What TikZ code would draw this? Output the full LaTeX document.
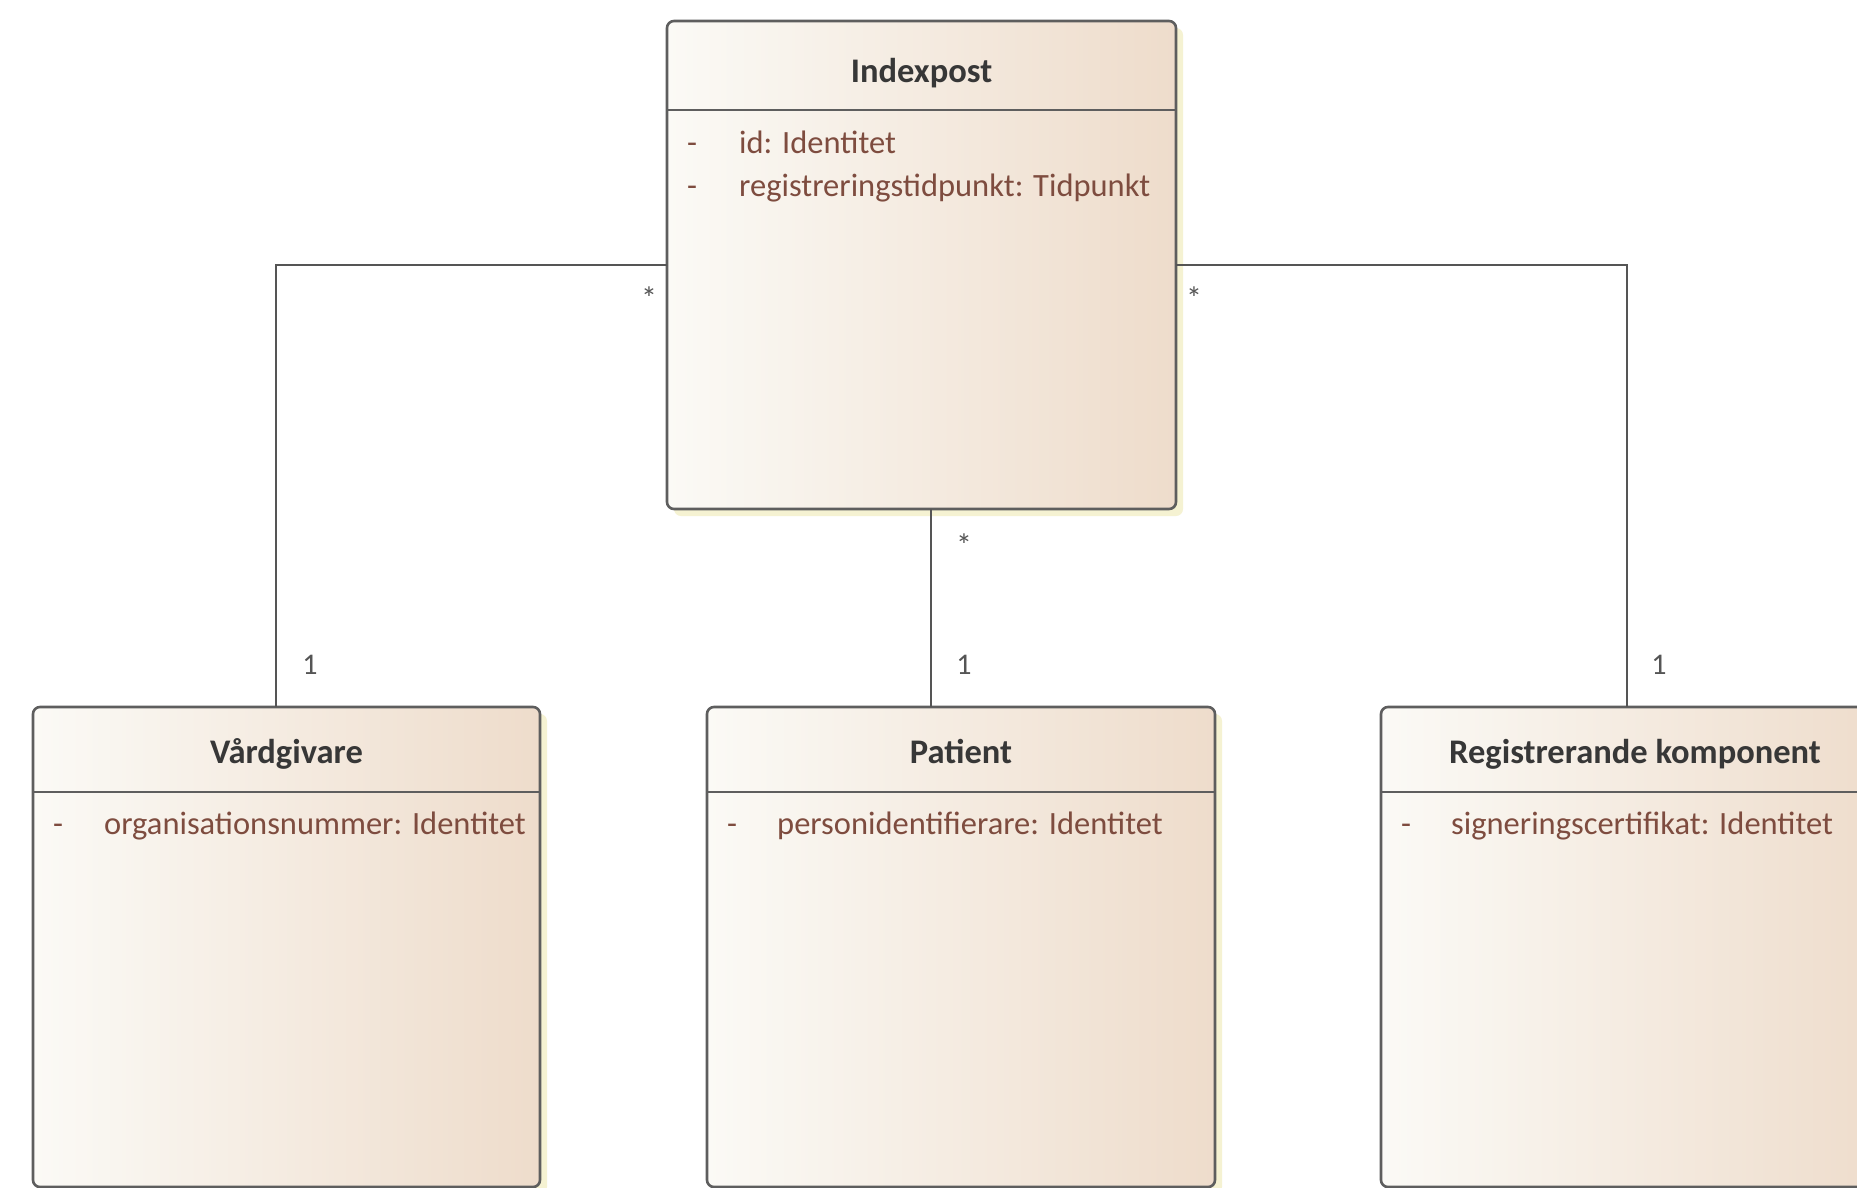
\documentclass[tikz,border=0pt]{standalone}
\usepackage{fontspec}
\setmainfont{Carlito}
\usetikzlibrary{shadows}
\definecolor{boxleft}{HTML}{FBFAF6}
\definecolor{boxmid}{HTML}{F7F0E9}
\definecolor{boxright}{HTML}{EEDCCB}
\definecolor{bordc}{HTML}{5E5E5E}
\definecolor{attrc}{HTML}{7E4C3F}
\definecolor{titlec}{HTML}{373737}
\definecolor{shadc}{HTML}{F5F2D2}
\definecolor{connc}{HTML}{555555}
\begin{document}
\begin{tikzpicture}[x=1pt,y=-1pt,
  classbox/.style={draw=bordc, line width=2.6pt, rounded corners=7pt,
    left color=boxleft, middle color=boxmid, right color=boxright,
    inner sep=0pt, outer sep=0pt, anchor=north west,
    drop shadow={shadow xshift=7pt, shadow yshift=-7pt, fill=shadc, opacity=1}},
  sepline/.style={draw=bordc, line width=2.4pt},
  titletext/.style={font=\fontsize{34.5}{40}\selectfont\bfseries, text=titlec, inner sep=0pt,
    text height=0.7em, text depth=0.2em},
  attrtext/.style={font=\fontsize{32.5}{38}\selectfont, text=attrc, inner sep=0pt, anchor=west,
    text height=0.7em, text depth=0.2em},
  dashtext/.style={font=\fontsize{32.5}{38}\selectfont, text=attrc, inner sep=0pt, anchor=west,
    text height=0.7em, text depth=0.2em},
  conn/.style={draw=connc, line width=2pt},
  mult/.style={font=\fontsize{30}{34}\selectfont, text=connc, inner sep=0pt},
  star/.style={font=\fontsize{32}{36}\selectfont, text=connc, inner sep=0pt}
]
\useasboundingbox (0,0) rectangle (1857,1187);
\fill[white] (0,0) rectangle (1857,1187);

% Indexpost
\node[classbox, minimum width=509pt, minimum height=488pt] (idx) at (667,21) {};
\draw[sepline] ([yshift=-89pt]idx.north west) -- ([yshift=-89pt]idx.north east);
\node[titletext] (idxT) at ([yshift=-59pt]idx.north) {Indexpost};
\node[dashtext] (idxD1) at ([xshift=20pt,yshift=-130pt]idx.north west) {-};
\node[attrtext] (idxA1) at ([xshift=72pt,yshift=-130pt]idx.north west) {id: Identitet};
\node[dashtext] (idxD2) at ([xshift=20pt,yshift=-173pt]idx.north west) {-};
\node[attrtext] (idxA2) at ([xshift=72pt,yshift=-173pt]idx.north west) {registreringstidpunkt: Tidpunkt};

% Vardgivare
\node[classbox, minimum width=507pt, minimum height=480pt] (vard) at (33,707) {};
\draw[sepline] ([yshift=-85pt]vard.north west) -- ([yshift=-85pt]vard.north east);
\node[titletext] (vardT) at ([yshift=-54pt]vard.north) {Vårdgivare};
\node[dashtext] (vardD1) at ([xshift=20pt,yshift=-125pt]vard.north west) {-};
\node[attrtext] (vardA1) at ([xshift=71pt,yshift=-125pt]vard.north west) {organisationsnummer: Identitet};

% Patient
\node[classbox, minimum width=508pt, minimum height=480pt] (pat) at (707,707) {};
\draw[sepline] ([yshift=-85pt]pat.north west) -- ([yshift=-85pt]pat.north east);
\node[titletext] (patT) at ([yshift=-54pt]pat.north) {Patient};
\node[dashtext] (patD1) at ([xshift=20pt,yshift=-125pt]pat.north west) {-};
\node[attrtext] (patA1) at ([xshift=70pt,yshift=-125pt]pat.north west) {personidentifierare: Identitet};

% Registrerande komponent
\node[classbox, minimum width=508pt, minimum height=480pt] (reg) at (1381,707) {};
\draw[sepline] ([yshift=-85pt]reg.north west) -- ([yshift=-85pt]reg.north east);
\node[titletext] (regT) at ([yshift=-54pt]reg.north) {Registrerande komponent};
\node[dashtext] (regD1) at ([xshift=20pt,yshift=-125pt]reg.north west) {-};
\node[attrtext] (regA1) at ([xshift=70pt,yshift=-125pt]reg.north west) {signeringscertifikat: Identitet};

% connectors
\coordinate (cl) at (276,265);
\coordinate (cm) at (931,600);
\coordinate (cr) at (1627,265);
\draw[conn] (idx.west |- cl) -| (vard.north -| cl);
\draw[conn] (idx.south -| cm) -- (pat.north -| cm);
\draw[conn] (idx.east |- cr) -| (reg.north -| cr);

% multiplicities
\node[star] (mL1) at (649,298) {*};
\node[star] (mR1) at (1194,298) {*};
\node[star] (mM1) at (964,545) {*};
\node[mult] (mL2) at (310,665) {1};
\node[mult] (mM2) at (964,665) {1};
\node[mult] (mR2) at (1659,665) {1};
\end{tikzpicture}
\end{document}
